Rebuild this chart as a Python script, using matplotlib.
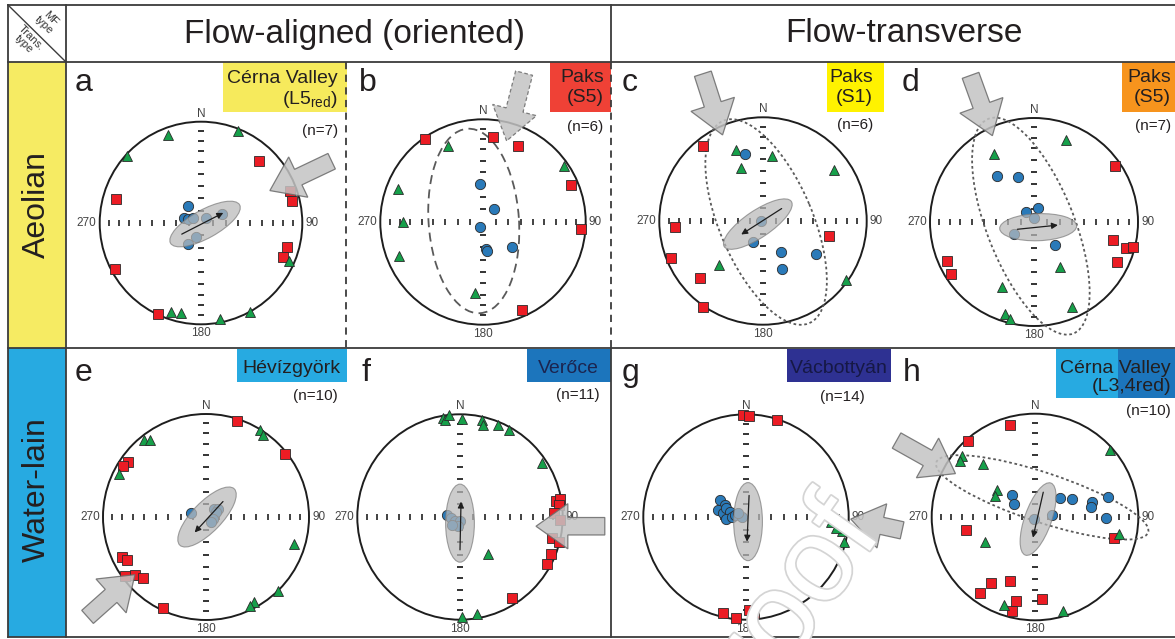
import numpy as np
import matplotlib
matplotlib.use("Agg")
import matplotlib.pyplot as plt
import matplotlib.patheffects as pe
from matplotlib.patches import Ellipse, Rectangle, FancyArrow, Circle

plt.rcParams['font.family'] = ['Liberation Sans', 'DejaVu Sans']
plt.rcParams['mathtext.fontset'] = 'custom'
plt.rcParams['mathtext.rm'] = 'Liberation Sans'

# ---------------------------------------------------------------------------
# AMS principal axes, lower-hemisphere equal-area projection (x = E, y = N,
# in units of the net radius).  K1 = max (squares), K2 = int (triangles),
# K3 = min (circles).
# ---------------------------------------------------------------------------
K1_a = [(0.57, 0.61), (0.88, 0.32), (0.90, 0.22), (-0.84, 0.24), (0.85, -0.24),
        (0.81, -0.34), (-0.85, -0.45), (-0.42, -0.90)]
K2_a = [(-0.33, 0.87), (0.37, 0.91), (-0.73, 0.66), (0.87, -0.38), (-0.30, -0.875),
        (-0.20, -0.885), (0.19, -0.95), (0.48, -0.875)]
K3_a = [(-0.13, 0.17), (-0.17, 0.05), (-0.13, 0.04), (-0.08, 0.05), (0.05, 0.05),
        (0.21, 0.09), (-0.05, -0.14), (-0.13, -0.21)]

K1_b = [(-0.56, 0.81), (0.10, 0.83), (0.34, 0.74), (0.86, 0.36), (0.95, -0.07), (0.38, -0.86)]
K2_b = [(-0.34, 0.74), (0.79, 0.55), (-0.83, 0.32), (-0.78, 0.0), (-0.82, -0.33), (-0.08, -0.69)]
K3_b = [(-0.03, 0.37), (0.11, 0.13), (-0.03, -0.05), (0.03, -0.26), (0.04, -0.28), (0.28, -0.24)]

K1_c = [(-0.58, 0.72), (-0.85, -0.06), (0.64, -0.14), (-0.89, -0.36), (-0.61, -0.55), (-0.58, -0.83)]
K2_c = [(-0.26, 0.68), (0.09, 0.63), (-0.21, 0.51), (0.68, 0.49), (-0.42, -0.42), (0.80, -0.57)]
K3_c = [(-0.17, 0.65), (-0.02, 0.0), (-0.10, -0.20), (0.17, -0.30), (0.51, -0.32), (0.18, -0.46)]

K1_d = [(0.78, 0.54), (0.76, -0.17), (0.88, -0.25), (0.95, -0.24), (0.80, -0.38),
        (-0.84, -0.375), (-0.80, -0.50)]
K2_d = [(0.31, 0.79), (-0.38, 0.65), (0.25, -0.43), (-0.31, -0.625), (0.37, -0.82),
        (-0.28, -0.88), (-0.23, -0.93)]
K3_d = [(-0.36, 0.44), (-0.15, 0.43), (0.04, 0.135), (-0.08, 0.10), (0.0, 0.04),
        (-0.19, -0.12), (0.20, -0.22)]

K1_e = [(0.30, 0.93), (0.77, 0.61), (-0.76, 0.53), (-0.81, 0.50), (-0.82, -0.39),
        (-0.77, -0.42), (-0.79, -0.57), (-0.69, -0.56), (-0.61, -0.59), (-0.42, -0.88)]
K2_e = [(-0.60, 0.75), (-0.54, 0.75), (0.52, 0.845), (0.55, 0.80), (-0.84, 0.42),
        (0.85, -0.26), (0.70, -0.715), (0.47, -0.83), (0.43, -0.86)]
K3_e = [(-0.15, 0.035), (0.08, 0.08), (0.12, 0.075), (0.10, 0.05), (0.07, -0.02), (0.05, -0.045)]

K1_f = [(0.93, 0.16), (0.97, 0.18), (0.96, 0.12), (0.92, 0.04), (0.97, -0.03),
        (0.90, -0.20), (0.96, -0.24), (0.89, -0.36), (0.85, -0.46), (0.51, -0.79)]
K2_f = [(-0.17, 0.96), (-0.15, 0.94), (-0.11, 0.99), (0.02, 0.95), (0.21, 0.94),
        (0.22, 0.90), (0.37, 0.90), (0.48, 0.85), (0.80, 0.53), (0.27, -0.36),
        (0.02, -0.97), (0.17, -0.945)]
K3_f = [(-0.13, 0.02), (-0.09, -0.01), (-0.05, -0.04), (0.0, -0.035), (-0.02, -0.09), (-0.075, -0.075)]

K1_g = [(-0.03, 0.99), (0.03, 0.98), (0.30, 0.94), (-0.22, -0.93), (-0.10, -0.98),
        (0.03, -0.905), (0.08, -0.93)]
K2_g = [(0.80, 0.035), (0.85, -0.01), (0.83, -0.05), (0.90, -0.08), (0.93, -0.14),
        (0.95, -0.24), (0.88, -0.11)]
K3_g = [(-0.25, 0.165), (-0.20, 0.12), (-0.27, 0.07), (-0.22, 0.035), (-0.19, 0.085),
        (-0.155, 0.05), (-0.195, -0.015), (-0.14, 0.0), (-0.11, 0.02), (-0.04, 0.0),
        (-0.075, 0.035)]

K1_h = [(-0.24, 0.89), (-0.645, 0.74), (-0.67, -0.13), (0.76, -0.20), (-0.24, -0.62),
        (-0.43, -0.64), (-0.53, -0.74), (0.07, -0.79), (-0.18, -0.81), (-0.22, -0.91)]
K2_h = [(0.73, 0.65), (-0.71, 0.59), (-0.73, 0.54), (-0.50, 0.51), (-0.37, 0.26),
        (-0.39, 0.20), (-0.48, -0.24), (0.81, -0.16), (-0.30, -0.85), (0.27, -0.91)]
K3_h = [(-0.22, 0.21), (-0.20, 0.13), (0.24, 0.18), (0.355, 0.17), (0.55, 0.15),
        (0.54, 0.10), (0.71, 0.19), (0.69, -0.01), (0.16, 0.02), (-0.01, -0.015)]

# Mean K1 confidence ellipses: (x, y, semi-major, semi-minor, angle in deg)
ELL_a = (0.04, -0.01, 0.39, 0.14, 29)
ELL_c = (-0.05, -0.03, 0.39, 0.13, 34)
ELL_d = (0.04, -0.05, 0.37, 0.13, 2)
ELL_e = (0.01, 0.0, 0.38, 0.145, 46)
ELL_f = (0.0, -0.06, 0.38, 0.14, 90)
ELL_g = (0.02, -0.045, 0.38, 0.14, 90)
ELL_h = (0.03, -0.02, 0.37, 0.13, 70.5)

# Mean imbrication vectors: (tail, head)
MEAN_a = ((-0.19, -0.11), (0.22, 0.10))
MEAN_c = ((0.18, 0.12), (-0.21, -0.13))
MEAN_d = ((-0.16, -0.07), (0.23, -0.03))
MEAN_e = ((0.165, 0.15), (-0.11, -0.15))
MEAN_f = ((0.0, -0.32), (0.01, 0.15))
MEAN_g = ((0.03, 0.21), (0.01, -0.24))
MEAN_h = ((0.08, 0.24), (-0.02, -0.20))

# Girdle envelopes: (x, y, semi-major, semi-minor, angle in deg)
GIRDLE_b = (-0.09, 0.01, 0.90, 0.44, 94)
GIRDLE_c = (0.03, -0.01, 1.06, 0.45, 113)
GIRDLE_d = (-0.03, -0.04, 1.11, 0.42, 111.6)
GIRDLE_h = (0.07, 0.19, 1.08, 0.24, -18.3)

# Inferred transport direction arrows: (tail, tip)
FLOW_a = ((1.29, 0.61), (0.68, 0.32))
FLOW_b = ((0.40, 1.45), (0.23, 0.79))
FLOW_c = ((-0.58, 1.42), (-0.39, 0.83))
FLOW_d = ((-0.61, 1.41), (-0.40, 0.83))
FLOW_e = ((-1.15, -0.97), (-0.69, -0.56))
FLOW_f = ((1.41, -0.09), (0.74, -0.09))
FLOW_g = ((1.52, -0.13), (1.02, -0.02))
FLOW_h = ((-1.34, 0.74), (-0.77, 0.42))

N_SAMPLES = {'a': 7, 'b': 6, 'c': 6, 'd': 7, 'e': 10, 'f': 11, 'g': 14, 'h': 10}

COL_HEADS = ['Flow-aligned (oriented)', 'Flow-transverse']
ROW_HEADS = ['Aeolian', 'Water-lain']

# ---------------------------------------------------------------------------
W, H = 1175, 639
fig = plt.figure(figsize=(W / 100, H / 100), dpi=100)
fig.patch.set_facecolor('white')
bg = fig.add_axes([0, 0, 1, 1])
bg.set_xlim(0, W)
bg.set_ylim(H, 0)
bg.axis('off')

RED, GREEN, BLUE = '#ec1c24', '#16a04a', '#2a7ab9'
LINE = '#3c3c3c'

# frame
bg.add_patch(Rectangle((8, 62), 58, 286, fc='#f6eb63', ec='none'))
bg.add_patch(Rectangle((8, 348), 58, 289, fc='#27aae1', ec='none'))
for y in (5, 62, 348, 637):
    bg.plot([8, W], [y, y], color=LINE, lw=1.3)
for x in (8, 66):
    bg.plot([x, x], [5, 637], color=LINE, lw=1.3)
bg.plot([611, 611], [5, 62], color=LINE, lw=1.3)
bg.plot([611, 611], [348, 637], color=LINE, lw=1.3)
bg.plot([611, 611], [62, 348], color=LINE, lw=1.3, ls=(0, (4, 3)))
bg.plot([346, 346], [62, 348], color=LINE, lw=1.3, ls=(0, (4, 3)))
bg.plot([8, 66], [5, 62], color=LINE, lw=1.0)
bg.text(47, 22, 'MF\ntype', rotation=-45, ha='center', va='center', fontsize=8,
        linespacing=0.95, color='#333')
bg.text(27, 41, 'Trans.\ntype', rotation=-45, ha='center', va='center', fontsize=8,
        linespacing=0.95, color='#333')

bg.text(355, 34, COL_HEADS[0], ha='center', va='center', fontsize=24, color='#231f20')
bg.text(904, 34, COL_HEADS[1], ha='center', va='center', fontsize=24, color='#231f20')
bg.text(37, 204, ROW_HEADS[0], rotation=90, ha='center', va='center', fontsize=23, color='#231f20')
bg.text(37, 490, ROW_HEADS[1], rotation=90, ha='center', va='center', fontsize=23, color='#231f20')


def tag(x0, x1, y0, y1, color, lines, xr, baselines, tcolor='#231f20', fs=14):
    bg.add_patch(Rectangle((x0, y0), x1 - x0, y1 - y0, fc=color, ec='none'))
    for s, yb in zip(lines, baselines):
        bg.text(xr, yb, s, ha='right', va='baseline', fontsize=fs, color=tcolor)


tag(223, 347, 62, 112, '#f6ea5c', ['Cérna Valley', '(L5$_{\\mathrm{red}}$)'], 338, [83, 104])
tag(550, 611, 62, 112, '#ef4136', ['Paks', '(S5)'], 604, [82, 102])
tag(827, 884, 62, 112, '#fff200', ['Paks', '(S1)'], 873, [82, 102])
tag(1122, W, 62, 112, '#f7941d', ['Paks', '(S5)'], 1171, [82, 102])
tag(237, 347, 349, 382, '#27aae1', ['Hévízgyörk'], 340, [373])
tag(527, 611, 349, 382, '#1c75bc', ['Verőce'], 599, [373], tcolor='#1b2550')
tag(787, 891, 349, 382, '#2e3192', ['Vácbottyán'], 888, [373], tcolor='#161845')
tag(1056, 1118, 349, 398, '#27aae1', [], 0, [])
tag(1118, W, 349, 398, '#1c75bc', ['Cérna Valley', '(L3,4red)'], 1171, [373, 391])

letters = {'a': (75, 91), 'b': (359, 91), 'c': (622, 91), 'd': (902, 91),
           'e': (75, 381), 'f': (361, 381), 'g': (622, 381), 'h': (903, 381)}
for k, (x, y) in letters.items():
    bg.text(x, y, k, ha='left', va='baseline', fontsize=23, color='#231f20')

n_pos = {'a': (338, 131), 'b': (603, 127), 'c': (873, 125), 'd': (1171, 126),
         'e': (338, 396), 'f': (600, 395), 'g': (865, 397), 'h': (1171, 411)}
for k, (x, y) in n_pos.items():
    bg.text(x, y, f'(n={N_SAMPLES[k]})', ha='right', va='center', fontsize=11, color='#231f20')

TICKS = np.sqrt(2) * np.sin(np.radians((90 - np.arange(10, 90, 10)) / 2))


def stereonet(cx, cy, R, k1, k2, k3, ell=None, mean=None, girdle=None,
              girdle_ls=(0, (1.5, 1.5)), flow=None, flow_ls='solid'):
    L = 1.75
    ax = fig.add_axes([(cx - L * R) / W, (H - cy - L * R) / H, 2 * L * R / W, 2 * L * R / H])
    ax.set_xlim(-L, L)
    ax.set_ylim(-L, L)
    ax.axis('off')

    ax.add_patch(Circle((0, 0), 1, fill=False, ec='#1e1e1e', lw=1.4, zorder=2))
    rr = np.concatenate([-TICKS, TICKS])
    ax.plot(rr, np.zeros_like(rr), ls='none', marker='|', ms=4.2, mew=1.3, color='#333', zorder=1)
    ax.plot(np.zeros_like(rr), rr, ls='none', marker='_', ms=3.8, mew=1.4, color='#333', zorder=1)
    lab = dict(fontsize=8.5, color='#444')
    ax.text(0, 1.02, 'N', ha='center', va='bottom', **lab)
    ax.text(0, -1.03, '180', ha='center', va='top', **lab)
    ax.text(-1.03, 0, '270', ha='right', va='center', **lab)
    ax.text(1.03, 0, '90', ha='left', va='center', **lab)

    if girdle is not None:
        gx, gy, ga, gb, gang = girdle
        ax.add_patch(Ellipse((gx, gy), 2 * ga, 2 * gb, angle=gang, fill=False,
                             ec='#5a5a5a', lw=1.3, ls=girdle_ls, zorder=3, clip_on=False))

    mk = dict(ls='none', mec='#2a2a2a', mew=0.6, ms=7.4, zorder=4, clip_on=False)
    x, y = np.array(k1).T
    ax.plot(x, y, marker='s', mfc=RED, **mk)
    x, y = np.array(k2).T
    ax.plot(x, y, marker='^', mfc=GREEN, **mk)
    x, y = np.array(k3).T
    ax.plot(x, y, marker='o', mfc=BLUE, **mk)

    if ell is not None:
        ex, ey, ea, eb, eang = ell
        ax.add_patch(Ellipse((ex, ey), 2 * ea, 2 * eb, angle=eang, fc='#b9b9b9',
                             ec='#7d7d7d', lw=0.8, alpha=0.72, zorder=5))
    if mean is not None:
        (x0, y0), (x1, y1) = mean
        ax.annotate('', xy=(x1, y1), xytext=(x0, y0),
                    arrowprops=dict(arrowstyle='-|>', lw=0.9, color='#1e1e1e',
                                    mutation_scale=9, shrinkA=0, shrinkB=0), zorder=6)
    if flow is not None:
        (x0, y0), (x1, y1) = flow
        ax.add_patch(FancyArrow(x0, y0, x1 - x0, y1 - y0, width=0.17, head_width=0.44,
                                head_length=0.31, length_includes_head=True,
                                fc='#c3c3c3', ec='#6a6a6a', lw=0.9, ls=flow_ls,
                                alpha=0.85, zorder=7, clip_on=False))
    return ax


stereonet(201, 223, 101.3, K1_a, K2_a, K3_a, ell=ELL_a, mean=MEAN_a, flow=FLOW_a)
stereonet(483, 222, 102.7, K1_b, K2_b, K3_b, girdle=GIRDLE_b, girdle_ls=(0, (5, 3)),
          flow=FLOW_b, flow_ls=(0, (3, 2)))
stereonet(763, 221, 103.7, K1_c, K2_c, K3_c, ell=ELL_c, mean=MEAN_c, girdle=GIRDLE_c, flow=FLOW_c)
stereonet(1034, 222, 104, K1_d, K2_d, K3_d, ell=ELL_d, mean=MEAN_d, girdle=GIRDLE_d, flow=FLOW_d)
stereonet(206, 517, 103, K1_e, K2_e, K3_e, ell=ELL_e, mean=MEAN_e, flow=FLOW_e)
stereonet(460, 517, 102.7, K1_f, K2_f, K3_f, ell=ELL_f, mean=MEAN_f, flow=FLOW_f)
stereonet(746, 517, 102.7, K1_g, K2_g, K3_g, ell=ELL_g, mean=MEAN_g, flow=FLOW_g)
stereonet(1035, 517, 103.3, K1_h, K2_h, K3_h, ell=ELL_h, mean=MEAN_h, girdle=GIRDLE_h, flow=FLOW_h)

# faint diagonal stamp over the lower right block
fig.text(719 / W, 1 - 766 / H, 'Proof', rotation=55, rotation_mode='anchor',
         ha='left', va='baseline', fontsize=86, color='white', zorder=20,
         path_effects=[pe.withStroke(linewidth=2.5, foreground='#d4d4d4')])

fig.savefig('out.png', dpi=100, facecolor='white')
